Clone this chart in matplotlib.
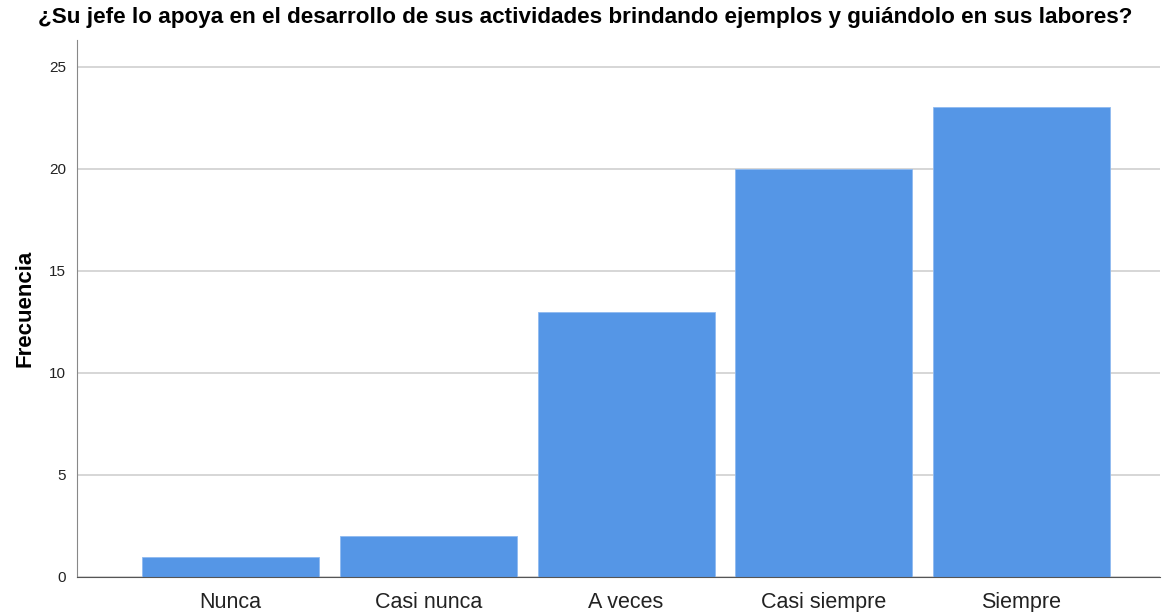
import numpy as np
import matplotlib.pyplot as plt

plt.rcParams['font.family'] = ['Liberation Sans', 'DejaVu Sans']

# Datos
categorias = ['Nunca', 'Casi nunca', 'A veces', 'Casi siempre', 'Siempre']
frecuencia = [1, 2, 13, 20, 23]

fig = plt.figure(figsize=(11.65, 6.12), dpi=100)
ax = fig.add_axes([0.0661, 0.0572, 0.9296, 0.8774])

x = np.arange(len(categorias))
ax.bar(x, frecuencia, width=0.895, color='#5596e6', edgecolor='#8fbaf0',
       linewidth=0.6, zorder=3)

ax.set_xlim(-0.776, 4.70)
ax.set_ylim(0, 26.3)
ax.set_yticks([0, 5, 10, 15, 20, 25])
ax.set_xticks(x)
ax.set_xticklabels(categorias, fontsize=15.5, color='#222222')
ax.tick_params(axis='y', labelsize=11, colors='#222222', length=0, pad=8)
ax.tick_params(axis='x', length=0, pad=11)
ax.yaxis.grid(True, color='#d0d0d0', linewidth=1.2, zorder=0)

for s in ['top', 'right']:
    ax.spines[s].set_visible(False)
ax.spines['left'].set_color('#888888')
ax.spines['bottom'].set_color('#555555')
ax.spines['left'].set_zorder(4)
ax.spines['bottom'].set_zorder(4)

ax.set_ylabel('Frecuencia', fontsize=16, fontweight='bold', labelpad=10)
fig.text(0.502, 0.972, '¿Su jefe lo apoya en el desarrollo de sus actividades brindando ejemplos y guiándolo en sus labores?',
         ha='center', va='center', fontsize=16.2, fontweight='bold')

plt.savefig('out.png', dpi=100)
